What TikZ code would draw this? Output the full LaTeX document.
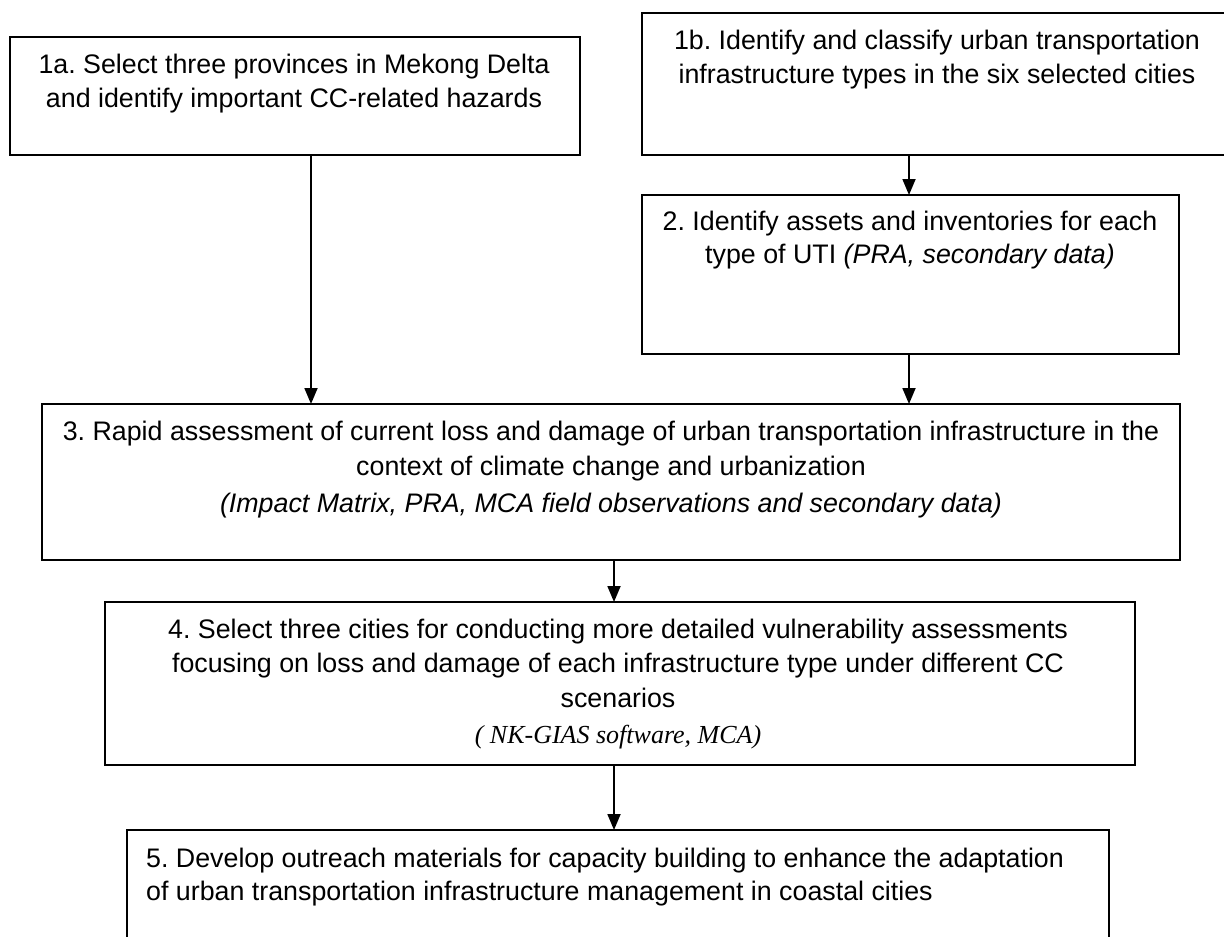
\documentclass[tikz,border=0pt]{standalone}
\usepackage{fontspec}
\setmainfont{Liberation Sans}
\newfontfamily\serifit{Liberation Serif}
\usetikzlibrary{arrows.meta}
\frenchspacing
\begin{document}
\begin{tikzpicture}[x=1pt,y=-1pt,
  box/.style={draw, line width=1.7pt, inner sep=0pt, outer sep=0pt},
  txt/.style={anchor=base, inner sep=0pt, font=\fontsize{26.8}{32}\selectfont},
  txtl/.style={txt, anchor=base west},
  note/.style={txt, font={\serifit\itshape\fontsize{26}{32}\selectfont}},
  arr/.style={line width=1.8pt, -{Triangle[length=16pt,width=13pt]}}]
\fill[white] (0,0) rectangle (1224,937);
\useasboundingbox (0,0) rectangle (1224,937);
% boxes
\node[box, minimum width=570pt, minimum height=118pt] (b1a) at (295,96) {};
\node[box, minimum width=591pt, minimum height=142pt] (b1b) at (937.5,84) {};
\node[box, minimum width=537pt, minimum height=159pt] (b2) at (910.5,274.5) {};
\node[box, minimum width=1138pt, minimum height=156pt] (b3) at (611,482) {};
\node[box, minimum width=1030pt, minimum height=163pt] (b4) at (620,683.5) {};
\node[box, minimum width=982pt, minimum height=130pt] (b5) at (618,895) {};
% texts
\node[txt] (t1a1) at (294,73) {1a. Select three provinces in Mekong Delta};
\node[txt] (t1a2) at (294,107) {and identify important CC-related hazards};
\node[txt] (t1b1) at (937,49) {1b. Identify and classify urban transportation};
\node[txt] (t1b2) at (937,83) {infrastructure types in the six selected cities};
\node[txt] (t21) at (910,230) {2. Identify assets and inventories for each};
\node[txt] (t22) at (910,263) {type of UTI \textit{(PRA, secondary data)}};
\node[txt] (t31) at (611,440) {3. Rapid assessment of current loss and damage of urban transportation infrastructure in the};
\node[txt] (t32) at (611,475) {context of climate change and urbanization};
\node[txt] (t33) at (611,512) {\textit{(Impact Matrix, PRA, MCA field observations and secondary data)}};
\node[txt] (t41) at (618,638) {4. Select three cities for conducting more detailed vulnerability assessments};
\node[txt] (t42) at (618,672) {focusing on loss and damage of each infrastructure type under different CC};
\node[txt] (t43) at (618,707) {scenarios};
\node[note] (t44) at (618,743) {( NK-GIAS software, MCA)};
\node[txtl] (t51) at (146,867) {5. Develop outreach materials for capacity building to enhance the adaptation};
\node[txtl] (t52) at (146,900) {of urban transportation infrastructure management in coastal cities};
% connectors
\coordinate (xa) at (311,0);
\coordinate (xb) at (909,0);
\coordinate (xc) at (614,0);
\draw[arr] (b1a.south -| xa) -- (b3.north -| xa);
\draw[arr] (b1b.south -| xb) -- (b2.north -| xb);
\draw[arr] (b2.south -| xb) -- (b3.north -| xb);
\draw[arr] (b3.south -| xc) -- (b4.north -| xc);
\draw[arr] (b4.south -| xc) -- (b5.north -| xc);
\end{tikzpicture}
\end{document}
